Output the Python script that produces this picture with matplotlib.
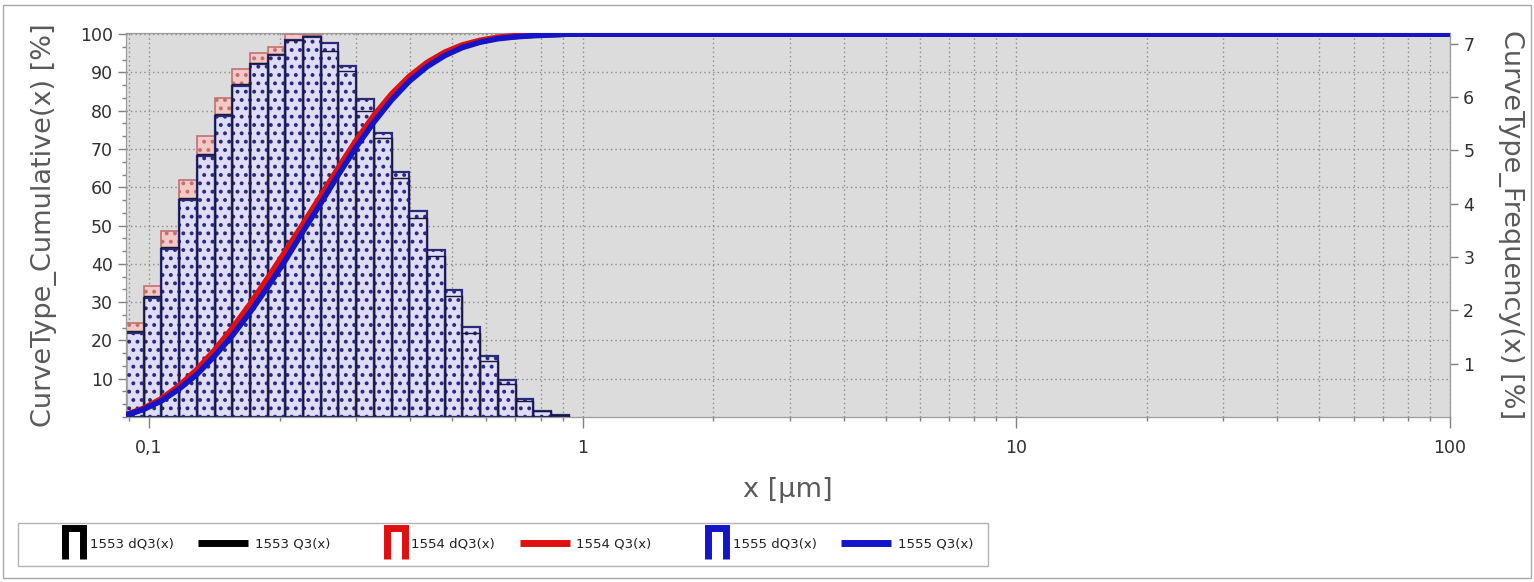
import matplotlib
matplotlib.use("Agg")
import matplotlib.pyplot as plt
import matplotlib.transforms as mtransforms
from matplotlib.lines import Line2D
from matplotlib.patches import Rectangle
from matplotlib.legend_handler import HandlerBase
from matplotlib.ticker import LogLocator, FuncFormatter, AutoMinorLocator, NullFormatter, FixedLocator

# ---------------- data ----------------
bin_edges = [0.0885, 0.0972, 0.1068, 0.1173, 0.1289, 0.1416, 0.1555, 0.1709,
             0.1877, 0.2062, 0.2266, 0.2489, 0.2734, 0.3004, 0.3300, 0.3626,
             0.3983, 0.4376, 0.4808, 0.5281, 0.5802, 0.6374, 0.7003, 0.7693,
             0.8451, 0.9284]

# dQ3 (frequency, %)
freq_1553 = [1.62, 2.26, 3.19, 4.10, 4.93, 5.68, 6.24, 6.64, 6.80, 7.07, 7.14, 6.87, 6.49,
             5.74, 5.24, 4.49, 3.74, 3.02, 2.27, 1.58, 1.05, 0.61, 0.30, 0.12, 0.03]
freq_1554 = [1.77, 2.46, 3.48, 4.45, 5.26, 5.98, 6.53, 6.82, 6.93, 7.18, 7.17, 6.83, 6.44,
             5.68, 5.14, 4.42, 3.67, 2.95, 2.21, 1.55, 1.02, 0.59, 0.29, 0.11, 0.02]
freq_1555 = [1.58, 2.24, 3.15, 4.06, 4.90, 5.65, 6.21, 6.62, 6.78, 7.06, 7.13, 7.02, 6.59,
             5.96, 5.32, 4.59, 3.87, 3.13, 2.38, 1.69, 1.14, 0.69, 0.33, 0.12, 0.03]

# Q3 (cumulative, %) at the bin edges, plus the end of the axis
q3_x = bin_edges + [100.0]
q3_1553 = [0.5, 2.1, 4.4, 7.6, 11.6, 16.5, 22.0, 28.2, 34.9, 41.9, 49.3, 56.6, 64.0,
           71.2, 77.7, 83.4, 88.2, 92.0, 94.8, 96.8, 98.1, 99.0, 99.4, 99.7, 99.9, 100.0, 100.0]
q3_1554 = [0.6, 2.3, 4.8, 8.2, 12.4, 17.5, 23.2, 29.5, 36.3, 43.3, 50.5, 57.8, 65.2,
           72.3, 78.8, 84.4, 89.0, 92.6, 95.3, 97.2, 98.4, 99.2, 99.6, 99.8, 99.9, 100.0, 100.0]
q3_1555 = [0.5, 2.0, 4.2, 7.3, 11.1, 15.9, 21.2, 27.3, 33.9, 40.9, 48.5, 55.8, 63.3,
           70.5, 77.0, 82.8, 87.7, 91.5, 94.4, 96.5, 97.9, 98.8, 99.3, 99.6, 99.8, 100.0, 100.0]

cum_ticks = [10, 20, 30, 40, 50, 60, 70, 80, 90, 100]
freq_ticks = [1, 2, 3, 4, 5, 6, 7]
x_ticks = [0.1, 1, 10, 100]
x_ticklabels = ["0,1", "1", "10", "100"]

legend_labels = ["1553 dQ3(x)", "1553 Q3(x)", "1554 dQ3(x)", "1554 Q3(x)",
                 "1555 dQ3(x)", "1555 Q3(x)"]

# ---------------- figure ----------------
plt.rcParams["font.family"] = ["DejaVu Sans"]
W, H = 1534, 582
fig = plt.figure(figsize=(W / 100, H / 100), dpi=100)
fig.patch.set_facecolor("white")
fig.patches.append(Rectangle((3 / W, 4 / H), 1 - 6 / W, 1 - 9 / H, transform=fig.transFigure,
                             fill=False, edgecolor="#a8a8a8", lw=1))

x0, x1, ytop, ybot = 126, 1450, 33, 417
ax = fig.add_axes([x0 / W, 1 - ybot / H, (x1 - x0) / W, (ybot - ytop) / H])
ax2 = ax.twinx()

# frequency axis on the right (ax), cumulative axis on the left (ax2)
ax.yaxis.tick_right()
ax.yaxis.set_label_position("right")
ax2.yaxis.tick_left()
ax2.yaxis.set_label_position("left")

ax.set_xscale("log")
ax.set_xlim(bin_edges[0], 100)
ax.set_ylim(0, 7.2)
ax2.set_ylim(0, 100.3)
ax.set_facecolor("#dcdcdc")

# grid (below bars)
grid_kw = dict(color="#8a8a8a", lw=1.0, ls=(0, (1, 2.2)))
ax.xaxis.set_major_locator(FixedLocator(x_ticks))
ax.xaxis.set_minor_locator(LogLocator(base=10, subs=[2, 3, 4, 5, 6, 7, 8, 9], numticks=20))
ax.xaxis.set_major_formatter(FuncFormatter(lambda v, p: x_ticklabels[x_ticks.index(v)] if v in x_ticks else ""))
ax.xaxis.set_minor_formatter(NullFormatter())
ax.set_axisbelow(True)
ax.grid(True, which="both", axis="x", **grid_kw)
blend = mtransforms.blended_transform_factory(ax.transAxes, ax2.transData)
for v in cum_ticks:
    ax.plot([0, 1], [v, v], transform=blend, zorder=0.6, **grid_kw)

# bars
lefts = bin_edges[:-1]
widths = [b - a for a, b in zip(bin_edges[:-1], bin_edges[1:])]
plt.rcParams["hatch.linewidth"] = 1.6
ax.bar(lefts, freq_1554, width=widths, align="edge", facecolor="#f4c8c4",
       edgecolor="#c07070", hatch="..", lw=1.2, zorder=2)
ax.bar(lefts, freq_1555, width=widths, align="edge", facecolor="#dedcf6",
       edgecolor="#2a2a7a", hatch="..", lw=1.6, zorder=3)
ax.bar(lefts, freq_1553, width=widths, align="edge", fill=False,
       edgecolor="#18183a", lw=1.0, zorder=4)

# cumulative curves
ax2.plot(q3_x, q3_1553, color="black", lw=4, zorder=5, solid_capstyle="butt")
ax2.plot(q3_x, q3_1554, color="#e01010", lw=4, zorder=6, solid_capstyle="butt")
ax2.plot(q3_x, q3_1555, color="#1414c8", lw=4, zorder=7, solid_capstyle="butt")

# ticks
tick_color = "#808080"
lab_color = "#303030"
ax2.yaxis.set_major_locator(FixedLocator(cum_ticks))
ax2.yaxis.set_minor_locator(AutoMinorLocator(3))
ax.yaxis.set_major_locator(FixedLocator(freq_ticks))
ax.yaxis.set_minor_locator(AutoMinorLocator(2))
for a in (ax, ax2):
    a.tick_params(which="major", length=6, width=1, color=tick_color, labelcolor=lab_color,
                  labelsize=12.5, direction="out")
    a.tick_params(which="minor", length=3, width=1, color=tick_color, direction="out")
    for s in a.spines.values():
        s.set_color("#9a9a9a")
ax.tick_params(axis="x", which="major", length=8, pad=8)
ax.tick_params(axis="y", which="minor", length=0)

# labels
lbl_kw = dict(fontsize=19.5, color="#5a5a5a")
ax.set_xlabel("x [µm]", **lbl_kw)
ax.xaxis.set_label_coords(0.5, -0.155)
ax2.set_ylabel("CurveType_Cumulative(x) [%]", **lbl_kw)
ax2.yaxis.set_label_coords(-0.052, 0.5)
ax.set_ylabel("CurveType_Frequency(x) [%]", rotation=270, va="bottom", **lbl_kw)
ax.yaxis.set_label_coords(1.036, 0.5)


# legend
class BracketHandler(HandlerBase):
    def create_artists(self, legend, orig_handle, xdescent, ydescent, width, height,
                       fontsize, trans):
        xa = -xdescent + width * 0.64
        xb = -xdescent + width
        ya = -ydescent - height * 1.25
        yb = -ydescent + height * 2.2
        ln = Line2D([xa, xa, xb, xb], [ya, yb, yb, ya], color=orig_handle.get_edgecolor(),
                    lw=5, solid_joinstyle="miter", solid_capstyle="butt", transform=trans)
        return [ln]


series_colors = ["black", "#e01010", "#1414c8"]
handles = []
for c in series_colors:
    handles.append(Rectangle((0, 0), 1, 1, edgecolor=c, facecolor="none"))
    handles.append(Line2D([], [], color=c, lw=5, solid_capstyle="butt"))
leg = fig.legend(handles, legend_labels, loc="lower left", bbox_to_anchor=(18 / W, 1 - 566 / H),
                 ncol=6, frameon=True, fancybox=False, edgecolor="#a0a0a0", fontsize=9.5,
                 handlelength=3.8, columnspacing=1.85, handletextpad=0.5, borderpad=1.15,
                 borderaxespad=0, handler_map={Rectangle: BracketHandler()})
leg.get_frame().set_linewidth(1.0)
for t in leg.get_texts():
    t.set_color("#202020")

fig.savefig("out.png", dpi=100)
